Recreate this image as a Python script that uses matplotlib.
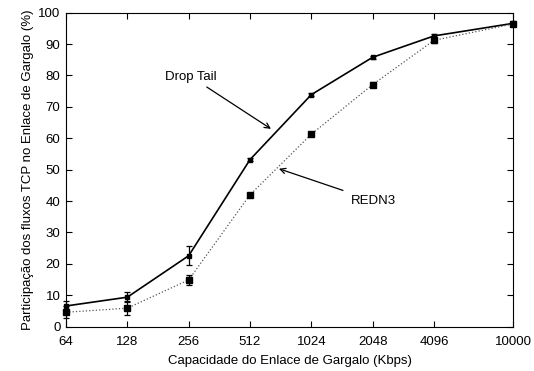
import numpy as np
import matplotlib
matplotlib.use("Agg")
import matplotlib.pyplot as plt

plt.rcParams["font.family"] = ["Liberation Sans", "DejaVu Sans"]

capacity = [64, 128, 256, 512, 1024, 2048, 4096, 10000]
droptail = [6.6, 9.4, 22.6, 53.2, 73.9, 85.8, 92.6, 96.6]
droptail_err = [1.5, 1.6, 3.0, 0.4, 0.4, 0.4, 0.5, 0.4]
redn3 = [4.6, 5.9, 14.9, 42.0, 61.3, 77.1, 91.2, 96.4]
redn3_err = [1.9, 2.3, 1.6, 0.6, 0.6, 0.9, 0.8, 0.6]
yticks = list(range(0, 101, 10))

fig = plt.figure(figsize=(5.34, 3.71), dpi=100)
ax = fig.add_axes([0.1236, 0.1194, 0.837, 0.8464])

eb1 = ax.errorbar(capacity, droptail, yerr=droptail_err, color="black", lw=1.2,
                  marker="s", ms=2.5, capsize=2, elinewidth=0.9, capthick=0.9)
eb2 = ax.errorbar(capacity, redn3, yerr=redn3_err, color="#555555", lw=0.9, ls=":",
                  marker="s", ms=5, mfc="black", mec="black", ecolor="black",
                  capsize=2, elinewidth=0.9, capthick=0.9)
for eb in (eb1, eb2):
    for art in eb.get_children():
        art.set_clip_on(False)

ax.set_xscale("log", base=2)
ax.set_xlim(64, 10000)
ax.set_ylim(0, 100)
ax.set_xticks(capacity)
ax.set_xticklabels([str(c) for c in capacity])
ax.minorticks_off()
ax.set_yticks(yticks)
ax.tick_params(direction="in", top=True, right=True, labelsize=9.5,
               length=4, width=0.8, pad=4)
ax.tick_params(axis="x", pad=7)

ax.annotate("Drop Tail", xy=(649, 63.0), xytext=(352, 79.6),
            ha="right", va="center", fontsize=9.5,
            arrowprops=dict(arrowstyle="->", color="black", lw=0.9,
                            shrinkA=2, shrinkB=0))
ax.annotate("REDN3", xy=(710, 50.3), xytext=(1604, 40.1),
            ha="left", va="center", fontsize=9.5,
            arrowprops=dict(arrowstyle="->", color="black", lw=0.9,
                            shrinkA=4, shrinkB=0))

ax.set_xlabel("Capacidade do Enlace de Gargalo (Kbps)", fontsize=9.5, labelpad=5)
ax.set_ylabel("Participação dos fluxos TCP no Enlace de Gargalo (%)", fontsize=9.5,
              labelpad=3)

fig.savefig("out.png", dpi=100)
